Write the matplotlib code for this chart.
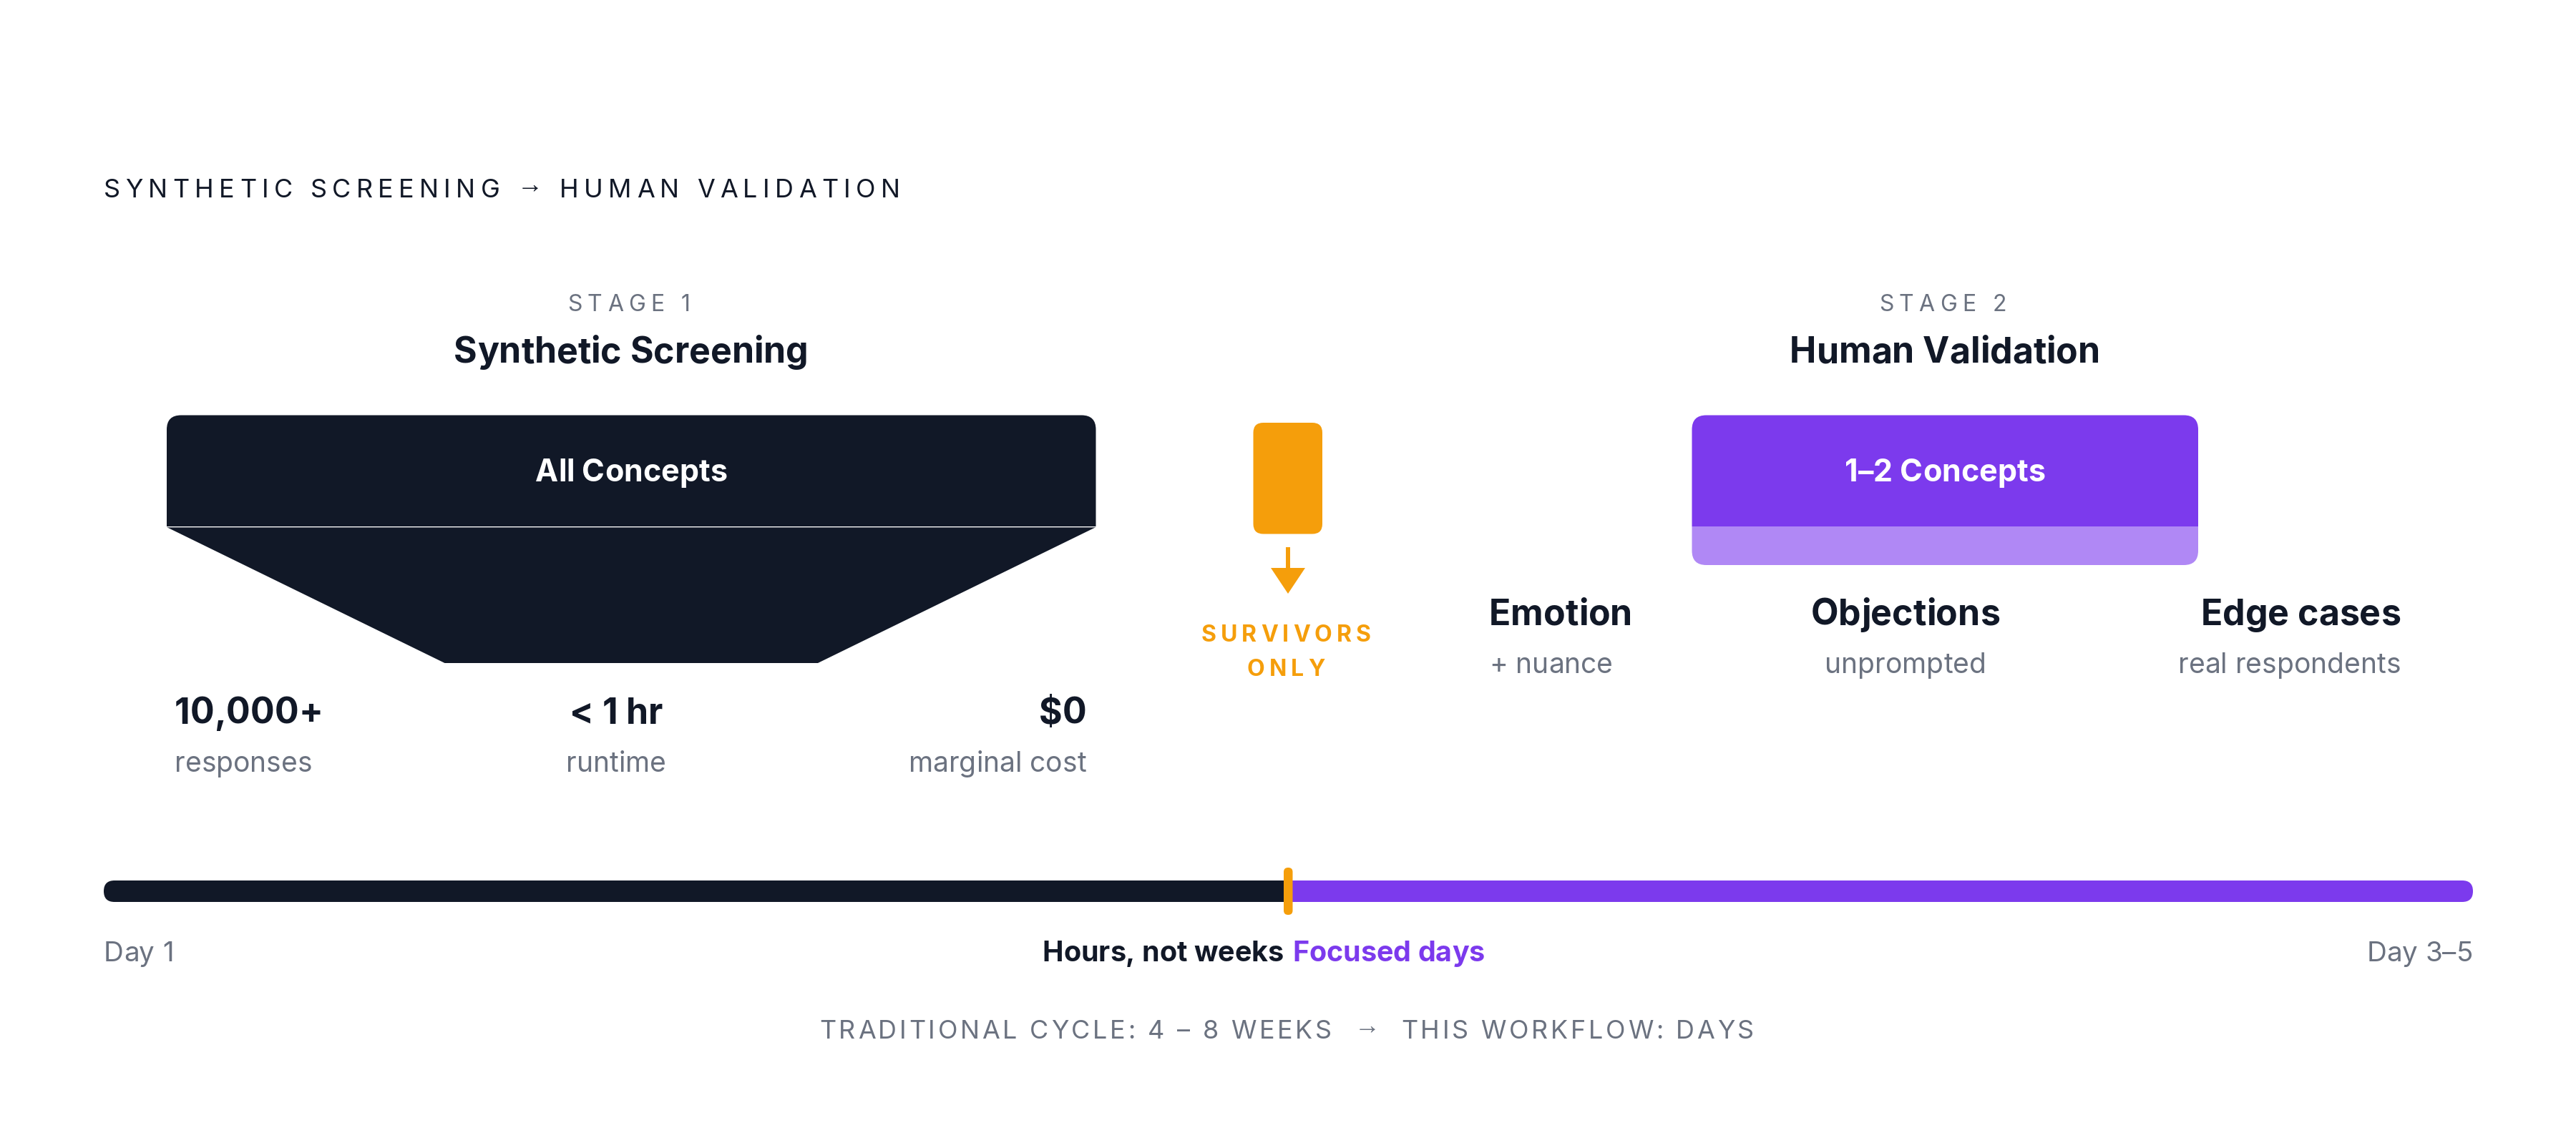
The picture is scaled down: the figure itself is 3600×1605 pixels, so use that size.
import matplotlib
matplotlib.use("Agg")
import matplotlib.pyplot as plt
from matplotlib.font_manager import findfont, get_font
from matplotlib.ft2font import LoadFlags
from matplotlib.patches import PathPatch, Polygon
from matplotlib.path import Path
from matplotlib.text import Text

plt.rcParams["font.family"] = ["Inter", "DejaVu Sans"]

DARK = "#111827"
PURPLE = "#7C3AED"
PURPLE_LIGHT = "#B088F5"
ORANGE = "#F59E0B"
GRAY = "#6B7280"

title = "SYNTHETIC SCREENING → HUMAN VALIDATION"
stages = ["STAGE 1", "STAGE 2"]
stage_names = ["Synthetic Screening", "Human Validation"]
box_labels = ["All Concepts", "1–2 Concepts"]
survivors = ["SURVIVORS", "ONLY"]
metric_values = ["10,000+", "< 1 hr", "$0"]
metric_labels = ["responses", "runtime", "marginal cost"]
human_values = ["Emotion", "Objections", "Edge cases"]
human_labels = ["+ nuance", "unprompted", "real respondents"]
time_ends = ["Day 1", "Day 3–5"]
time_mid = ["Hours, not weeks", "Focused days"]
footer = "TRADITIONAL CYCLE: 4 – 8 WEEKS  →  THIS WORKFLOW: DAYS"


class TrackedText(Text):
    # one text with letter spacing, drawn glyph by glyph
    def __init__(self, x, y, text, tracking=0, **kw):
        super().__init__(x, y, text, **kw)
        self.tracking = tracking

    def draw(self, renderer):
        full = self.get_text()
        x0, y0 = self.get_position()
        ha = self.get_ha()
        prop = self.get_fontproperties()
        font = get_font(findfont(prop))
        font.set_size(prop.get_size_in_points(), 100)
        adv = [font.load_char(ord(c), flags=LoadFlags.NO_HINTING).linearHoriAdvance / 65536 + self.tracking
               for c in full]
        width = sum(adv) - self.tracking
        start = x0 - width / 2 if ha == "center" else x0 - width if ha == "right" else x0
        family = prop.get_family()
        self.set_ha("left")
        for c, a in zip(full, adv):
            if c != " ":
                # the small arrow of the reference is not Inter's, and sits higher
                arrow = c == "→"
                self.set_fontfamily(["Liberation Sans"] if arrow else family)
                self.set_y(y0 - 6 if arrow else y0)
                self.set_text(c)
                self.set_x(start)
                super().draw(renderer)
            start += a
        self.set_fontfamily(family)
        self.set_text(full)
        self.set_position((x0, y0))
        self.set_ha(ha)


def round_box(ax, x0, y0, x1, y1, color, tl=0, tr=0, br=0, bl=0, **kw):
    verts = [(x0 + tl, y0), (x1 - tr, y0), (x1, y0), (x1, y0 + tr), (x1, y1 - br), (x1, y1), (x1 - br, y1),
             (x0 + bl, y1), (x0, y1), (x0, y1 - bl), (x0, y0 + tl), (x0, y0), (x0 + tl, y0)]
    L, C = Path.LINETO, Path.CURVE3
    codes = [Path.MOVETO, L, C, C, L, C, C, L, C, C, L, C, C]
    ax.add_patch(PathPatch(Path(verts, codes), facecolor=color, edgecolor="none", **kw))


def px(size):
    return size * 0.72


def label(ax, x, y, s, size, color=DARK, weight="normal", ha="left", tracking=0):
    ax.add_artist(TrackedText(x, y, s, tracking=tracking, fontsize=px(size), color=color,
                              fontweight=weight, ha=ha, va="baseline"))


fig = plt.figure(figsize=(36, 16.05), dpi=100, facecolor="white")
ax = fig.add_axes([0, 0, 1, 1])
ax.set_xlim(0, 3600)
ax.set_ylim(1605, 0)
ax.axis("off")

label(ax, 145, 276, title, 36, tracking=7.3)

# stage headers
for cx, stage, name in zip([882, 2718], stages, stage_names):
    label(ax, cx - 3, 435, stage, 32, GRAY, ha="center", tracking=7.2)
    label(ax, cx, 507, name, 50, weight="bold", ha="center")

# funnel
round_box(ax, 233, 580.5, 1531.5, 736, DARK, tl=20, tr=20)
ax.add_patch(Polygon([(233, 737), (1531.5, 737), (1143, 927), (621.5, 927)], facecolor=DARK, edgecolor="none"))
ax.plot([233, 1531.5], [736.5, 736.5], color="#FFFFFF", alpha=0.4, lw=1.2)
label(ax, 882, 673, box_labels[0], 43, "white", "bold", "center")

# human box
round_box(ax, 2364.5, 580.5, 3072, 736, PURPLE, tl=20, tr=20)
round_box(ax, 2364.5, 736, 3072, 790, PURPLE_LIGHT, br=20, bl=20)
label(ax, 2718, 673, box_labels[1], 43, "white", "bold", "center")

# survivors
round_box(ax, 1751.5, 591, 1848, 746.5, ORANGE, 14, 14, 14, 14)
ax.plot([1800, 1800], [765, 796], color=ORANGE, lw=4.3, solid_capstyle="butt")
ax.add_patch(Polygon([(1776, 794), (1824, 794), (1800, 830)], facecolor=ORANGE, edgecolor="none"))
for y, s in zip([897, 945], survivors):
    label(ax, 1797, y, s, 32, ORANGE, "bold", "center", tracking=6)

# metrics under funnel
for x, ha, v, lab in zip([244, 861, 1518], ["left", "center", "right"], metric_values, metric_labels):
    label(ax, x, 1012, v, 50, weight="bold", ha=ha)
    label(ax, x, 1079, lab, 39, GRAY, ha=ha)

# metrics under human box
for x, ha, v, lab in zip([2081, 2663, 3355], ["left", "center", "right"], human_values, human_labels):
    label(ax, x, 873.5, v, 50, weight="bold", ha=ha)
    label(ax, x, 941, lab, 39, GRAY, ha=ha)

# timeline
round_box(ax, 145, 1231, 1800, 1261, DARK, tl=15, bl=15)
round_box(ax, 1800, 1231, 3456, 1261, PURPLE, tr=15, br=15)
round_box(ax, 1794, 1213, 1806.5, 1279, ORANGE, 6, 6, 6, 6)

label(ax, 145, 1344, time_ends[0], 38.5, GRAY)
label(ax, 3456, 1344, time_ends[1], 38.5, GRAY, ha="right")
label(ax, 1794, 1344, time_mid[0], 39.5, weight="bold", ha="right")
label(ax, 1806, 1344, time_mid[1], 39.5, PURPLE, "bold")

label(ax, 1798, 1452, footer, 36, GRAY, ha="center", tracking=3.7)

fig.savefig("out.png", dpi=100)
